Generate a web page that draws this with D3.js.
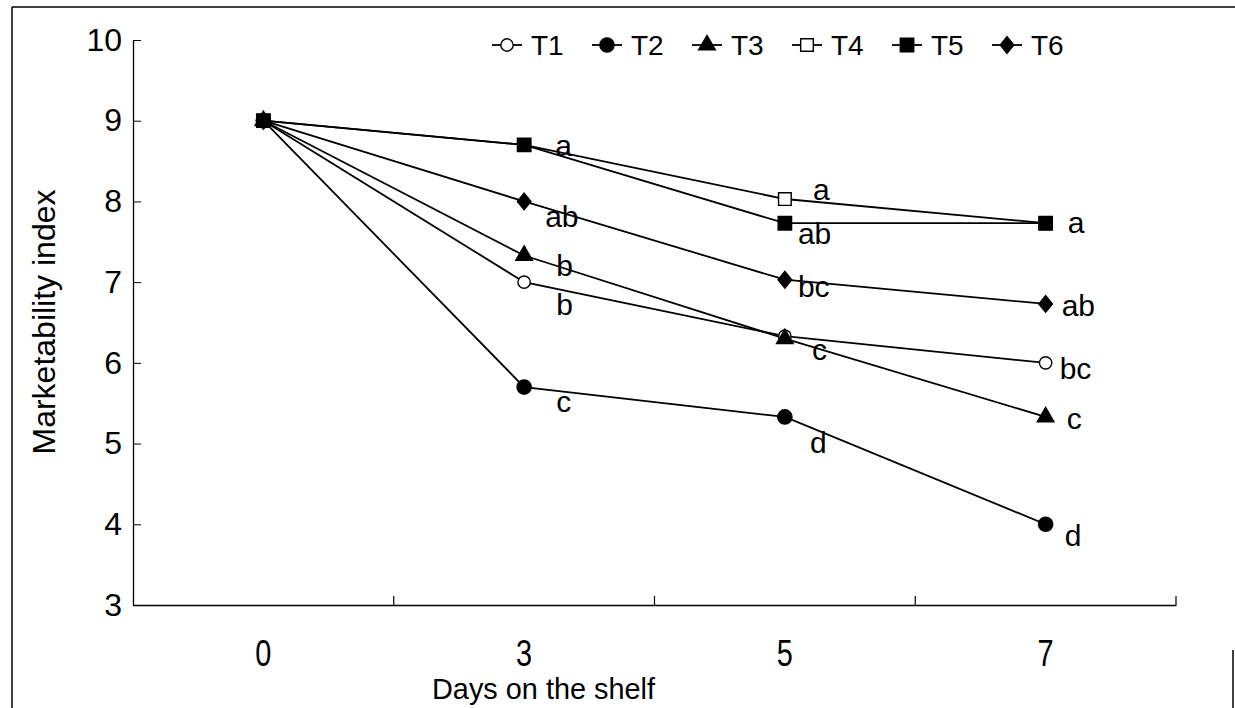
<!DOCTYPE html>
<html><head><meta charset="utf-8">
<script src="https://cdn.jsdelivr.net/npm/d3@7"></script>
<style>
html,body{margin:0;padding:0;background:#fff;}
svg{display:block;font-family:"Liberation Sans",Arial,sans-serif;}
</style></head>
<body><svg id="c" width="1235" height="708"></svg>
<script>
// ---- data ----
const days = ["0", "3", "5", "7"];
const seriesNames = ["T1", "T2", "T3", "T4", "T5", "T6"];
const T1 = [9, 7.0, 6.33, 6.0];
const T2 = [9, 5.7, 5.33, 4.0];
const T3 = [9, 7.33, 6.3, 5.33];
const T4 = [9, 8.7, 8.03, 7.73];
const T5 = [9, 8.7, 7.73, 7.73];
const T6 = [9, 8.0, 7.03, 6.73];
const yTicks = [3, 4, 5, 6, 7, 8, 9, 10];
// significance letters per series per day (null = none)
const L1 = [null, "b", null, "bc"];
const L2 = [null, "c", "d", "d"];
const L3 = [null, "b", "c", "c"];
const L4 = [null, null, "a", null];
const L5 = [null, "a", "ab", "a"];
const L6 = [null, "ab", "bc", "ab"];

// ---- styling / layout ----
const values = [T1, T2, T3, T4, T5, T6];
const letters = [L1, L2, L3, L4, L5, L6];
const markers = [
  {type: "circle", fill: "#fff", size: 120},
  {type: "circle", fill: "#000", size: 160},
  {type: "triangle", fill: "#000", size: 120},
  {type: "square", fill: "#fff", size: 160},
  {type: "square", fill: "#000", size: 180},
  {type: "diamond", fill: "#000", size: 115}
];
// label offsets [dx, dy] per series per day
const offs = [
  [null, [32, 33], null, [14, 16]],
  [null, [32, 25], [25, 36], [19, 22]],
  [null, [32, 20], [27, 21], [21, 12]],
  [null, null, [28, 1], null],
  [null, [31, 11], [13, 21], [22, 10]],
  [null, [21, 26], [13, 17], [16, 12]]
];

const svg = d3.select("#c");
const L = 133, R = 1176, T = 40, B = 605;

// frame
svg.append("line").attr("x1", 12).attr("x2", 1235).attr("y1", 7).attr("y2", 7).attr("stroke", "#000").attr("stroke-width", 1.5);
svg.append("line").attr("x1", 12).attr("x2", 12).attr("y1", 7).attr("y2", 708).attr("stroke", "#000").attr("stroke-width", 1.5);
svg.append("line").attr("x1", 1233).attr("x2", 1233).attr("y1", 650).attr("y2", 708).attr("stroke", "#000").attr("stroke-width", 1.5);

const x = d3.scaleBand().domain(days).range([L, R]);
const y = d3.scaleLinear().domain([3, 10]).range([B, T]);
const cx = d => x(d) + x.bandwidth() / 2;

// y axis
const ya = svg.append("g").attr("transform", `translate(${L},0)`)
  .call(d3.axisLeft(y).tickValues(yTicks).tickFormat(d3.format("d")).tickSize(-8).tickPadding(11).tickSizeOuter(0));
ya.select(".domain").attr("stroke", "#000").attr("stroke-width", 1.3);
ya.selectAll(".tick line").attr("stroke", "#000").attr("stroke-width", 1);
ya.selectAll(".tick text").attr("font-size", 32).attr("fill", "#000")
  .attr("font-family", "Liberation Sans, Arial, sans-serif");

// x axis
const xa = svg.append("g").attr("transform", `translate(0,${B})`)
  .call(d3.axisBottom(x).tickSize(0).tickPadding(35).tickSizeOuter(0));
xa.select(".domain").attr("stroke", "#000").attr("stroke-width", 1.3);
xa.selectAll(".tick text").attr("font-size", 37).attr("fill", "#000")
  .attr("transform", "scale(0.78,1)")
  .attr("font-family", "Liberation Sans, Arial, sans-serif");
// tick marks at band boundaries (inward)
const bounds = days.map(d => x(d) + x.bandwidth());
xa.selectAll("line.bt").data(bounds).enter().append("line").attr("class", "bt")
  .attr("x1", d => d).attr("x2", d => d).attr("y1", 0).attr("y2", -9)
  .attr("stroke", "#000").attr("stroke-width", 1.2);

// axis titles
svg.append("text").attr("transform", "translate(55,322) rotate(-90)")
  .attr("text-anchor", "middle").attr("font-size", 32).attr("fill", "#000")
  .text("Marketability index");
svg.append("text").attr("x", 432).attr("y", 699)
  .attr("font-size", 29).attr("fill", "#000")
  .attr("textLength", 223).attr("lengthAdjust", "spacingAndGlyphs")
  .text("Days on the shelf");

function drawMarker(g, m, px, py) {
  let p;
  if (m.type === "diamond") {
    p = g.append("path").attr("d", d3.symbol().type(d3.symbolSquare).size(m.size)())
      .attr("transform", `translate(${px},${py}) scale(0.9,1.1) rotate(45)`);
  } else {
    const t = m.type === "circle" ? d3.symbolCircle : m.type === "triangle" ? d3.symbolTriangle : d3.symbolSquare;
    p = g.append("path").attr("d", d3.symbol().type(t).size(m.size)())
      .attr("transform", `translate(${px},${py})`);
  }
  p.attr("fill", m.fill).attr("stroke", "#000").attr("stroke-width", 1.4);
}

const line = d3.line().x((v, i) => cx(days[i])).y(v => y(v));
const plot = svg.append("g");
values.forEach((vals) => {
  plot.append("path").attr("d", line(vals)).attr("fill", "none").attr("stroke", "#000").attr("stroke-width", 1.8);
});
[0, 1, 3, 2, 5, 4].forEach(si => {
  values[si].forEach((v, i) => drawMarker(plot, markers[si], cx(days[i]), y(v)));
});

// letters
values.forEach((vals, si) => {
  vals.forEach((v, i) => {
    const lt = letters[si][i];
    if (!lt) return;
    const o = offs[si][i];
    plot.append("text").attr("x", cx(days[i]) + o[0]).attr("y", y(v) + o[1])
      .attr("font-size", 30).attr("fill", "#000").text(lt);
  });
});

// legend
const lg = svg.append("g");
const lx0 = 507, ly = 45, step = 100;
seriesNames.forEach((n, i) => {
  const mx = lx0 + i * step;
  lg.append("line").attr("x1", mx - 15).attr("x2", mx + 15).attr("y1", ly).attr("y2", ly)
    .attr("stroke", "#000").attr("stroke-width", 1.8);
  drawMarker(lg, markers[i], mx, ly);
  lg.append("text").attr("x", mx + 24).attr("y", ly + 10).attr("font-size", 28).attr("fill", "#000").text(n);
});
</script></body></html>
